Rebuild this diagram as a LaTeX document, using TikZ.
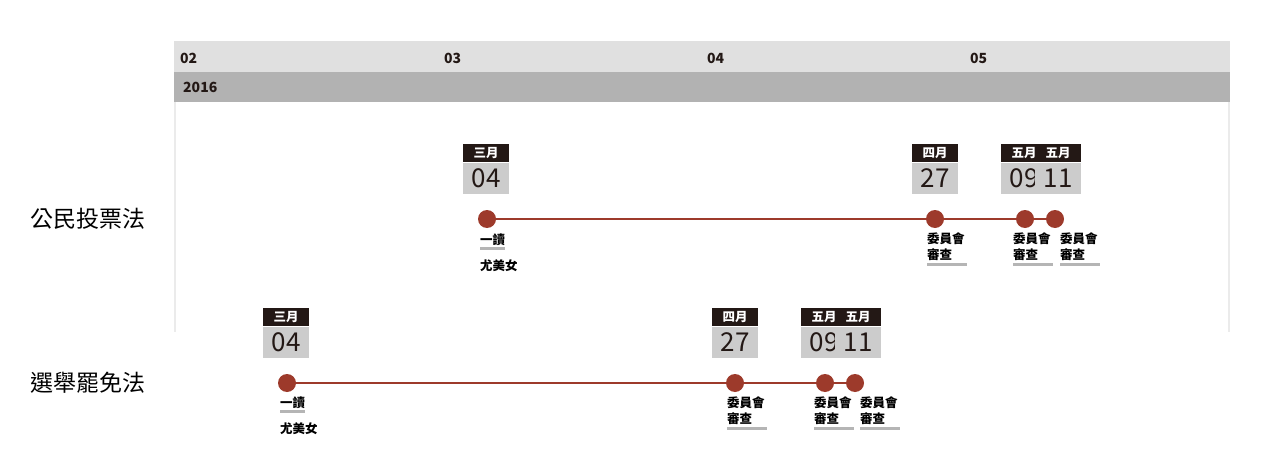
\documentclass[tikz,border=0pt]{standalone}
\usepackage{fontspec}
\setmainfont{Noto Sans CJK TC}
\usetikzlibrary{positioning}

\definecolor{lawred}{HTML}{9D3A2B}
\definecolor{tagdark}{HTML}{231815}
\definecolor{taglight}{HTML}{CCCCCC}
\definecolor{headlight}{HTML}{E0E0E0}
\definecolor{headdark}{HTML}{B2B2B2}
\definecolor{gridgray}{HTML}{EBEBEB}
\definecolor{linegray}{HTML}{B5B5B5}

\tikzset{
  event/.style={circle, fill=lawred, minimum size=18pt, inner sep=0pt},
  track/.style={draw=lawred, line width=2.5pt},
  daytag/.style={fill=taglight, text=tagdark, minimum width=46pt,
                 minimum height=31pt, inner sep=0pt,
                 font=\fontsize{26}{26}\selectfont},
  monthtag/.style={fill=tagdark, text=white, minimum width=46pt,
                   minimum height=18pt, inner sep=0pt,
                   font=\fontsize{12.5}{12.5}\selectfont\bfseries},
  note/.style={anchor=north west, inner sep=0pt, align=left, text=black,
               font=\fontsize{12.5}{16}\selectfont\bfseries},
  uline/.style={draw=linegray, line width=3pt},
  lawname/.style={anchor=west, inner sep=0pt, text=black,
                  font=\fontsize{23}{23}\selectfont},
  tick/.style={anchor=west, inner sep=0pt, text=tagdark,
               font=\fontsize{14}{14}\selectfont\bfseries}
}

\begin{document}
\begin{tikzpicture}[x=1pt, y=-1pt]
    \useasboundingbox (0,0) rectangle (1264,476);

    % header
    \fill[headlight] (174,41) rectangle (1230,72);
    \fill[headdark] (174,72) rectangle (1230,102);
    \foreach \n/\x/\t in {m02/180/02, m03/444/03, m04/707/04, m05/970/05} {
      \node[tick] (\n) at (\x,58) {\t};
    }
    \node[tick] (year) at (183,87) {2016};
    \draw[gridgray, line width=2pt] (175,102) -- (175,332);
    \draw[gridgray, line width=2pt] (1229,102) -- (1229,332);

    % row names
    \node[lawname] (law1) at (30,219) {公民投票法};
    \node[lawname] (law2) at (30,383) {選舉罷免法};

    % events: name / x / y / badge shift / month / day
    \foreach \n/\x/\y/\s/\mon/\day in {
        a1/487/219/-1/三月/04, a2/935/219/0/四月/27,
        a3/1025/219/-1/五月/09, a4/1055/219/3/五月/11,
        b1/287/383/-1/三月/04, b2/735/383/0/四月/27,
        b3/825/383/-1/五月/09, b4/855/383/3/五月/11} {
      \node[event] (\n) at (\x,\y) {};
      \node[daytag, above=16pt of \n, xshift=\s pt] (\n d) {\day};
      \node[monthtag, above=0pt of \n d] (\n m) {\mon};
    }
    \draw[track] (a1) -- (a2);
    \draw[track] (a2) -- (a3);
    \draw[track] (a3) -- (a4);
    \draw[track] (b1) -- (b2);
    \draw[track] (b2) -- (b3);
    \draw[track] (b3) -- (b4);

    % first reading
    \node[note] (a1r) at (480,234) {一讀};
    \draw[uline] ([yshift=-2pt]a1r.south west) -- ([yshift=-2pt]a1r.south east);
    \node[note] (a1p) at (480,259) {尤美女};
    \node[note] (b1r) at (280,397) {一讀};
    \draw[uline] ([yshift=-2pt]b1r.south west) -- ([yshift=-2pt]b1r.south east);
    \node[note] (b1p) at (280,422) {尤美女};

    % committee review
    \foreach \n/\x/\y in {a2c/927/232, a3c/1013/232, a4c/1060/232,
                          b2c/727/396, b3c/814/396, b4c/860/396} {
      \node[note, text width=40pt] (\n) at (\x,\y) {委員會\\審查};
      \draw[uline] ([yshift=-4pt]\n.south west) -- ([yshift=-4pt]\n.south east);
    }
\end{tikzpicture}
\end{document}
